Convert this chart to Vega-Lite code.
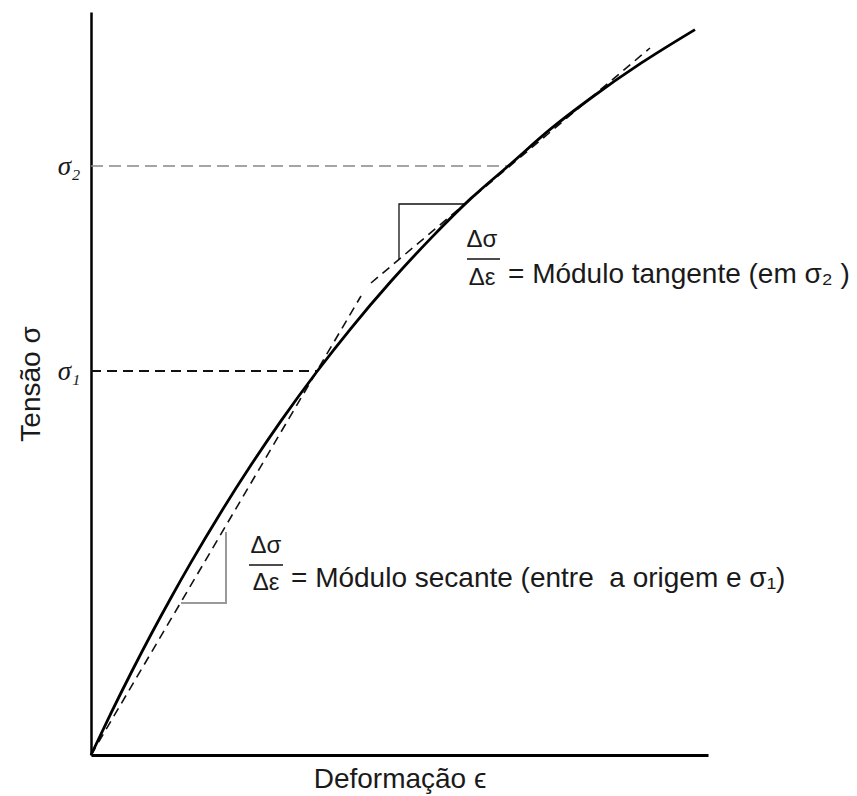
{
  "$schema": "https://vega.github.io/schema/vega-lite/v6.json",
  "width": 617,
  "height": 743,
  "autosize": {"type": "none"},
  "padding": {"left": 91, "top": 12, "right": 149, "bottom": 41},
  "background": "white",
  "config": {"view": {"stroke": null}},
  "data": {
    "values": [
      {"s": "c", "o": 0, "x": 0, "y": 0},
      {"s": "c", "o": 1, "x": 20, "y": 41.9},
      {"s": "c", "o": 2, "x": 40, "y": 82.0},
      {"s": "c", "o": 3, "x": 60, "y": 120.5},
      {"s": "c", "o": 4, "x": 80, "y": 157.3},
      {"s": "c", "o": 5, "x": 100, "y": 192.6},
      {"s": "c", "o": 6, "x": 130, "y": 242.8},
      {"s": "c", "o": 7, "x": 160, "y": 289.9},
      {"s": "c", "o": 8, "x": 190, "y": 334.1},
      {"s": "c", "o": 9, "x": 226, "y": 383.5},
      {"s": "c", "o": 10, "x": 260, "y": 426.7},
      {"s": "c", "o": 11, "x": 300, "y": 473.7},
      {"s": "c", "o": 12, "x": 340, "y": 516.9},
      {"s": "c", "o": 13, "x": 380, "y": 556.6},
      {"s": "c", "o": 14, "x": 419, "y": 590.5},
      {"s": "c", "o": 15, "x": 460, "y": 626.3},
      {"s": "c", "o": 16, "x": 500, "y": 657.0},
      {"s": "c", "o": 17, "x": 550, "y": 691.8},
      {"s": "c", "o": 18, "x": 604, "y": 725.4},
      {"s": "sec", "o": 0, "x": 0, "y": 0},
      {"s": "sec", "o": 1, "x": 270, "y": 459},
      {"s": "tan", "o": 0, "x": 280, "y": 472},
      {"s": "tan", "o": 1, "x": 559, "y": 707},
      {"s": "ref1", "o": 0, "x": 0, "y": 384},
      {"s": "ref1", "o": 1, "x": 226, "y": 384},
      {"s": "ref2", "o": 0, "x": 0, "y": 589},
      {"s": "ref2", "o": 1, "x": 419, "y": 589},
      {"s": "triT", "o": 0, "x": 308, "y": 496},
      {"s": "triT", "o": 1, "x": 308, "y": 551},
      {"s": "triT", "o": 2, "x": 374, "y": 551},
      {"s": "barT", "o": 0, "x": 376, "y": 496},
      {"s": "barT", "o": 1, "x": 409, "y": 496},
      {"s": "barS", "o": 0, "x": 158, "y": 190},
      {"s": "barS", "o": 1, "x": 192, "y": 190},
      {"s": "triS", "o": 0, "x": 90, "y": 152},
      {"s": "triS", "o": 1, "x": 135, "y": 152},
      {"s": "triS", "o": 2, "x": 135, "y": 223},
      {"s": "frac", "o": 0, "x": 391, "y": 515, "t": "Δσ"},
      {"s": "frac", "o": 1, "x": 391, "y": 477, "t": "Δε"},
      {"s": "frac", "o": 2, "x": 175, "y": 209, "t": "Δσ"},
      {"s": "frac", "o": 3, "x": 175, "y": 172, "t": "Δε"},
      {"s": "txt", "o": 0, "x": 417, "y": 472, "t": "= Módulo tangente (em σ₂ )"},
      {"s": "txt", "o": 1, "x": 200, "y": 168, "t": "= Módulo secante (entre\u00a0 a origem e σ₁)"}
    ]
  },
  "encoding": {
    "x": {
      "field": "x", "type": "quantitative",
      "scale": {"domain": [0, 617], "nice": false, "zero": false},
      "axis": {
        "title": "Deformação ϵ", "values": [], "labels": false, "ticks": false, "grid": false,
        "domainColor": "#000", "domainWidth": 3,
        "titleFont": "Liberation Sans", "titleFontSize": 28, "titleFontWeight": "normal",
        "titleColor": "#1a1a1a", "titlePadding": 10
      }
    },
    "y": {
      "field": "y", "type": "quantitative",
      "scale": {"domain": [0, 743], "nice": false, "zero": false},
      "axis": {
        "title": "Tensão σ", "values": [384, 589],
        "labelExpr": "datum.value == 384 ? 'σ₁' : 'σ₂'",
        "ticks": false, "grid": false,
        "domainColor": "#000", "domainWidth": 2.5,
        "labelFont": "Liberation Serif", "labelFontStyle": "italic", "labelFontSize": 27,
        "labelColor": "#1a1a1a", "labelPadding": 11,
        "titleFont": "Liberation Sans", "titleFontSize": 28, "titleFontWeight": "normal",
        "titleColor": "#1a1a1a", "titlePadding": 12
      }
    }
  },
  "layer": [
    {
      "transform": [{"filter": "datum.s == 'ref2'"}],
      "mark": {"type": "line", "color": "#888", "strokeWidth": 1.5, "strokeDash": [12, 6]},
      "encoding": {"order": {"field": "o"}}
    },
    {
      "transform": [{"filter": "datum.s == 'ref1'"}],
      "mark": {"type": "line", "color": "#111", "strokeWidth": 2.2, "strokeDash": [10, 6]},
      "encoding": {"order": {"field": "o"}}
    },
    {
      "transform": [{"filter": "datum.s == 'sec' || datum.s == 'tan'"}],
      "mark": {"type": "line", "color": "#111", "strokeWidth": 1.6, "strokeDash": [9, 6]},
      "encoding": {"order": {"field": "o"}, "detail": {"field": "s"}}
    },
    {
      "transform": [{"filter": "datum.s == 'triS'"}],
      "mark": {"type": "line", "color": "#999", "strokeWidth": 2},
      "encoding": {"order": {"field": "o"}}
    },
    {
      "transform": [{"filter": "datum.s == 'triT' || datum.s == 'barT' || datum.s == 'barS'"}],
      "mark": {"type": "line", "color": "#111", "strokeWidth": 1.3},
      "encoding": {"order": {"field": "o"}, "detail": {"field": "s"}}
    },
    {
      "transform": [{"filter": "datum.s == 'c'"}],
      "mark": {"type": "line", "color": "#000", "strokeWidth": 2.8, "interpolate": "monotone"},
      "encoding": {"order": {"field": "o"}}
    },
    {
      "transform": [{"filter": "datum.s == 'frac'"}],
      "mark": {"type": "text", "font": "Liberation Sans", "fontSize": 24, "align": "center", "baseline": "middle", "color": "#1a1a1a"},
      "encoding": {"text": {"field": "t"}}
    },
    {
      "transform": [{"filter": "datum.s == 'txt'"}],
      "mark": {"type": "text", "font": "Liberation Sans", "fontSize": 28, "align": "left", "baseline": "alphabetic", "color": "#1a1a1a"},
      "encoding": {"text": {"field": "t"}}
    }
  ]
}
